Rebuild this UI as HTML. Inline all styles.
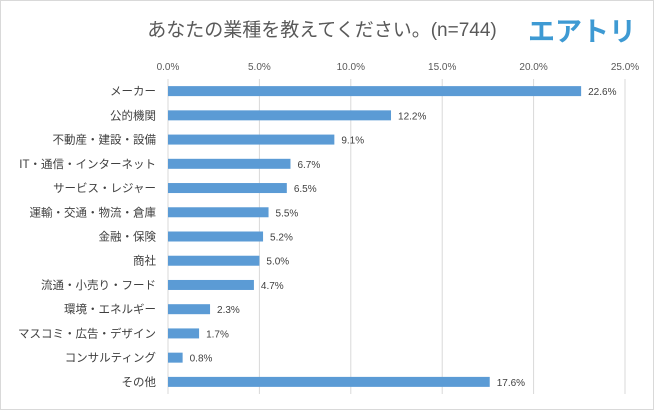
<!DOCTYPE html>
<html><head><meta charset="utf-8"><style>
body{margin:0;background:#fff;}
#wrap{position:relative;width:654px;height:410px;overflow:hidden;font-family:"Liberation Sans","Noto Sans CJK JP",sans-serif;}
</style></head><body>
<div id="wrap">
<svg id="chart" width="654" height="410">
<rect x="0.5" y="0.5" width="653" height="409" fill="#fff" stroke="#d9d9d9"/>
<text x="322" y="36" text-anchor="middle" font-size="19" fill="#595959" font-family="Liberation Sans,Noto Sans CJK JP,sans-serif">あなたの業種を教えてください。(n=744)</text>
<text x="582" y="41" text-anchor="middle" font-size="27" font-weight="bold" fill="#3e9ad3" font-family="Noto Sans CJK JP,sans-serif">エアトリ</text>
</svg>
</div>
<script>
const categories=["メーカー","公的機関","不動産・建設・設備","IT・通信・インターネット","サービス・レジャー","運輸・交通・物流・倉庫","金融・保険","商社","流通・小売り・フード","環境・エネルギー","マスコミ・広告・デザイン","コンサルティング","その他"];
const values=[22.6,12.2,9.1,6.7,6.5,5.5,5.2,5.0,4.7,2.3,1.7,0.8,17.6];
const ticks=[0,5,10,15,20,25];
const svg=document.getElementById('chart');
const NS='http://www.w3.org/2000/svg';
const x0=168,x1=625,xmax=25,yTop=79,yBot=394;
const xs=v=>x0+(v/xmax)*(x1-x0);
const step=(yBot-yTop)/categories.length;
const yc=i=>yTop+step*(i+0.5);
function mk(t,a){const e=document.createElementNS(NS,t);for(const k in a)e.setAttribute(k,a[k]);svg.appendChild(e);return e;}
ticks.forEach(t=>{
 const l=mk('line',{x1:xs(t),x2:xs(t),y1:yTop,y2:yBot,stroke:'#d9d9d9','stroke-width':1});
 
 
 const tx=mk('text',{x:xs(t),y:70,'text-anchor':'middle','font-size':10,fill:'#595959'});
 tx.textContent=t.toFixed(1)+'%';
 
 
});
categories.forEach((c,i)=>{
 const y=yc(i);
 const r=mk('rect',{x:x0,y:y-5,width:xs(values[i])-x0,height:10,fill:'#5b9bd5'});
 
 
 const lb=mk('text',{x:156,y:y+4,'text-anchor':'end','font-size':11.5,fill:'#404040'});
 lb.textContent=c;
 
 
 const vl=mk('text',{x:xs(values[i])+7,y:y+4,'font-size':10,fill:'#404040'});
 vl.textContent=values[i].toFixed(1)+'%';
 
 
});
</script>
</body></html>
